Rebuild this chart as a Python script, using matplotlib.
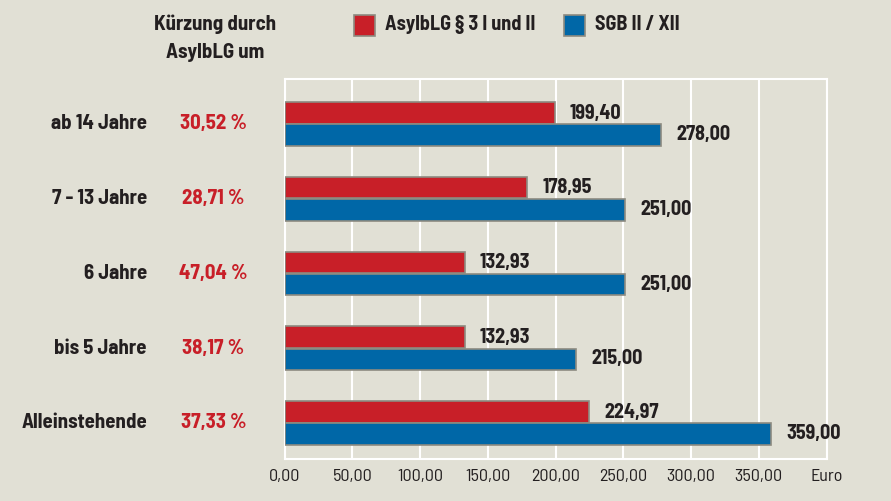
import matplotlib
matplotlib.use("Agg")
import matplotlib.pyplot as plt
from matplotlib.patches import Rectangle

categories = ["Alleinstehende", "bis 5 Jahre", "6 Jahre", "7 - 13 Jahre", "ab 14 Jahre"]
asylblg = [224.97, 132.93, 132.93, 178.95, 199.40]
sgb = [359.00, 215.00, 251.00, 251.00, 278.00]
kuerzung = ["37,33 %", "38,17 %", "47,04 %", "28,71 %", "30,52 %"]
xticks = [0, 50, 100, 150, 200, 250, 300, 350, 400]
xticklabels = ["0,00", "50,00", "100,00", "150,00", "200,00", "250,00", "300,00", "350,00", "Euro"]

FAM = ["Barlow Semi Condensed", "DejaVu Sans"]
BW = 700

BG = "#e1e0d5"
RED = "#c81f28"
BLUE = "#0067a7"
EDGE = "#8c8a80"
DARK = "#231f20"

fig = plt.figure(figsize=(8.91, 5.01), dpi=100, facecolor=BG)
ax = fig.add_axes([284.5/891, 42/501, 542/891, 380/501])
ax.set_facecolor(BG)

h = 0.288
y = list(range(len(categories)))
ax.barh([v + h/2 + 0.005 for v in y], asylblg, height=h, color=RED, edgecolor=EDGE, linewidth=1.2, zorder=3)
ax.barh([v - h/2 - 0.005 for v in y], sgb, height=h, color=BLUE, edgecolor=EDGE, linewidth=1.2, zorder=3)

for i in y:
    ax.annotate(f"{asylblg[i]:.2f}".replace(".", ","), (asylblg[i], i + h/2), xytext=(11, 0),
                textcoords="offset points", ha="left", va="center", fontsize=14.5,
                fontweight=BW, color=DARK, family=FAM)
    ax.annotate(f"{sgb[i]:.2f}".replace(".", ","), (sgb[i], i - h/2), xytext=(11, 0),
                textcoords="offset points", ha="left", va="center", fontsize=14.5,
                fontweight=BW, color=DARK, family=FAM)
    ax.text(-137.5/1.355, i, categories[i], ha="right", va="center", fontsize=15,
            fontweight=BW, color=DARK, family=FAM)
    ax.text(-71/1.355, i, kuerzung[i], ha="center", va="center", fontsize=15,
            fontweight=BW, color=RED, family=FAM)

ax.set_xlim(0, 400)
ax.set_ylim(-0.482, 4.602)
ax.set_yticks([])
ax.set_xticks(xticks)
ax.set_xticklabels(xticklabels, fontsize=13, color=DARK, family=FAM)
ax.tick_params(axis="x", length=0, pad=7)
ax.grid(axis="x", color="white", linewidth=1.5, zorder=0)
for s in ["top", "left", "right", "bottom"]:
    ax.spines[s].set_color("white")
    ax.spines[s].set_linewidth(1.5)

# header
fig.text(215/891, 1 - 24/501, "Kürzung durch", ha="center", va="center", fontsize=15,
         fontweight=BW, color=DARK, family=FAM)
fig.text(215/891, 1 - 53/501, "AsylbLG um", ha="center", va="center", fontsize=15,
         fontweight=BW, color=DARK, family=FAM)

# legend
for x0, col, lab in [(354, RED, "AsylbLG § 3 I und II"), (564, BLUE, "SGB II / XII")]:
    fig.patches.append(Rectangle((x0/891, 1 - 36/501), 21/891, 21/501, transform=fig.transFigure,
                                 facecolor=col, edgecolor=EDGE, linewidth=1.2))
    fig.text((x0 + 31)/891, 1 - 25/501, lab, ha="left", va="center", fontsize=14.5,
             fontweight=BW, color=DARK, family=FAM)

fig.savefig("out.png", dpi=100, facecolor=BG)
